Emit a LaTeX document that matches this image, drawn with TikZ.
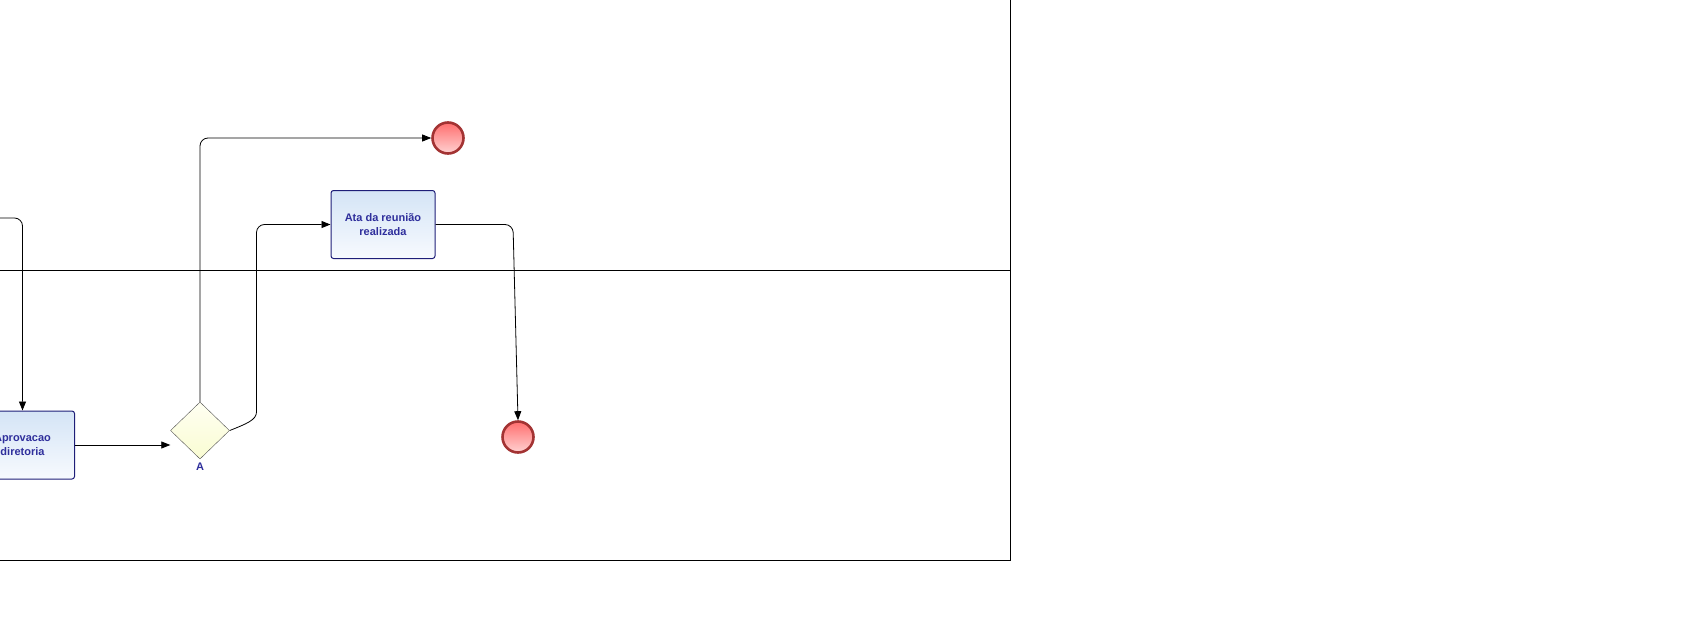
\documentclass[tikz,border=0pt]{standalone}
\usepackage{fontspec}
\setmainfont{Liberation Sans}
\usetikzlibrary{arrows.meta}
\usetikzlibrary{shapes}
\usetikzlibrary{positioning}

\definecolor{tasktext}{HTML}{2F2F9C}
\definecolor{taskborder}{HTML}{1E1E78}
\definecolor{tasktop}{HTML}{D4E4F6}
\definecolor{taskbottom}{HTML}{F7FAFE}
\definecolor{endborder}{HTML}{A33333}
\definecolor{endtop}{HTML}{FF6E6E}
\definecolor{endbottom}{HTML}{FFD2D2}
\definecolor{gwborder}{HTML}{505050}
\definecolor{gwtop}{HTML}{FFFFF2}
\definecolor{gwbottom}{HTML}{F9FCD2}

\begin{document}
\begin{tikzpicture}[x=1pt,y=-1pt,
  task/.style={draw=taskborder, line width=1pt, rounded corners=2.5pt, top color=tasktop, bottom color=taskbottom,
    minimum width=104pt, minimum height=68pt, align=center, text=tasktext,
    font=\bfseries\fontsize{11}{14}\selectfont},
  endevent/.style={circle, draw=endborder, line width=2.6pt, top color=endtop, bottom color=endbottom,
    minimum size=31pt, inner sep=0pt},
  gateway/.style={diamond, draw=gwborder, top color=gwtop, bottom color=gwbottom,
    minimum width=59pt, minimum height=57pt, inner sep=0pt},
  flow/.style={draw, line width=0.8pt, rounded corners=8pt, -{Triangle[length=9pt,width=7pt]}}]
\useasboundingbox (0,0) rectangle (1707,621);
% pool and lane
\draw[line width=0.8pt] (1010,-5) -- (1010,560) -- (-5,560);
\draw[line width=0.8pt] (-5,270) -- (1010,270);
% nodes
\node [task] (aprov) at (22.5,445) {Aprovacao\\diretoria};
\node [task] (ata) at (383,224.5) {Ata da reunião\\realizada};
\node [gateway, label={[text=tasktext, font=\bfseries\fontsize{11}{13}\selectfont, inner sep=1pt, label distance=3pt]below:A}] (gw) at (200,430.5) {};
\node [endevent] (endA) at (448,138) {};
\node [endevent] (endB) at (518,437) {};
\coordinate (in) at (-10,218);
% flows
\draw[flow] (in) -| (aprov.north);
\draw[flow] (aprov.east) -- (aprov.east -| gw.west);
\draw[flow] (gw.north) |- (endA.west);
\draw[flow] (gw.east) .. controls (246,424) and (256.5,420) .. (256.5,404) |- (ata.west);
\draw[flow] (ata.east) -- (513,224.5) -- (endB.north);
\end{tikzpicture}
\end{document}
